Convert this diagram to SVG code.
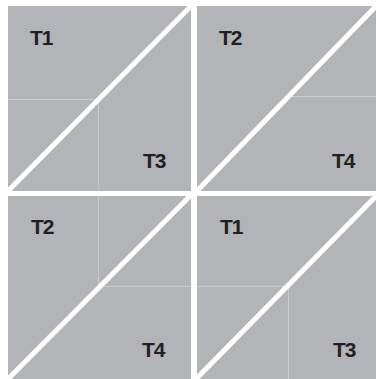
<svg xmlns="http://www.w3.org/2000/svg" width="376" height="379" viewBox="0 0 376 379">
<style>
.sq{fill:#b3b4b7}
.diag{stroke:#ffffff;stroke-width:5;fill:none}
.faint{stroke:#cbccce;stroke-width:1;fill:none}
.lbl{font-family:"Liberation Sans",Arial,sans-serif;font-weight:bold;font-size:21px;fill:#231f20;letter-spacing:-1px}
</style>
<rect width="376" height="379" fill="#ffffff"/>
<g id="tile-tl">
<rect class="sq" x="8" y="6" width="183" height="185"/>
<line class="faint" x1="8" y1="99.5" x2="98.5" y2="99.5"/>
<line class="faint" x1="98.5" y1="99.5" x2="98.5" y2="191"/>
<text class="lbl" x="30" y="45">T1</text>
<text class="lbl" x="143" y="168">T3</text>
</g>
<g id="tile-tr">
<rect class="sq" x="197" y="6" width="183" height="185"/>
<line class="faint" x1="292" y1="96.5" x2="376" y2="96.5"/>
<text class="lbl" x="219" y="45">T2</text>
<text class="lbl" x="332" y="168">T4</text>
</g>
<g id="tile-bl">
<rect class="sq" x="8" y="196" width="183" height="185"/>
<line class="faint" x1="98.5" y1="196" x2="98.5" y2="286.5"/>
<line class="faint" x1="98.5" y1="286.5" x2="191" y2="286.5"/>
<text class="lbl" x="31" y="234">T2</text>
<text class="lbl" x="142" y="357">T4</text>
</g>
<g id="tile-br">
<rect class="sq" x="197" y="196" width="183" height="185"/>
<line class="faint" x1="197" y1="286.5" x2="288.5" y2="286.5"/>
<line class="faint" x1="288.5" y1="286.5" x2="288.5" y2="379"/>
<text class="lbl" x="220" y="234">T1</text>
<text class="lbl" x="333" y="357">T3</text>
</g>
<g id="connectors">
<line class="diag" x1="6" y1="193" x2="193" y2="4"/>
<line class="diag" x1="195" y1="193" x2="380" y2="2"/>
<line class="diag" x1="6" y1="381" x2="193" y2="193"/>
<line class="diag" x1="195" y1="380" x2="380" y2="192"/>
</g>
</svg>
